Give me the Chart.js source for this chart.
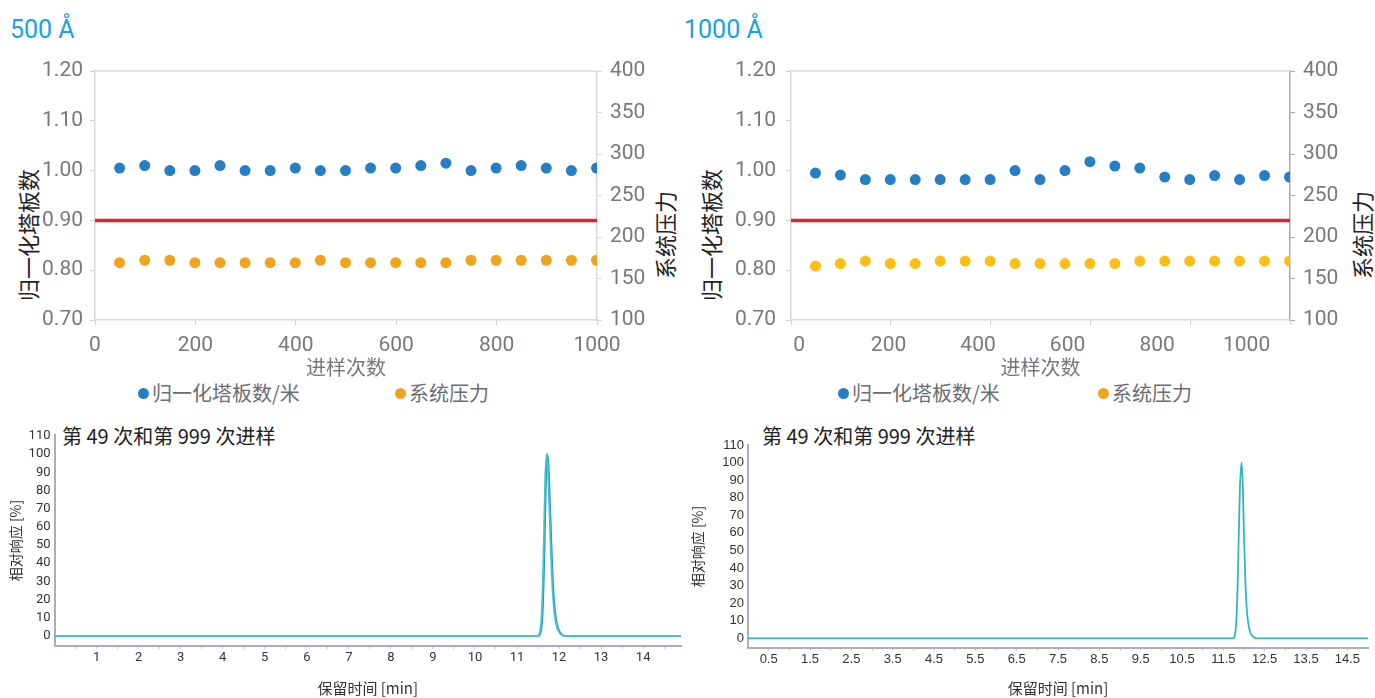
<!DOCTYPE html>
<html><head><meta charset="utf-8">
<script src="https://cdn.jsdelivr.net/npm/chart.js@4.4.1/dist/chart.umd.min.js"></script>
<style>
html,body{margin:0;padding:0;background:#fff;width:1375px;height:698px;overflow:hidden;position:relative;}
.box{position:absolute;}
.txt{position:absolute;white-space:nowrap;line-height:1;}
.head{font-family:Roboto;font-size:25px;color:#1ba1e2;transform:translateY(-50%);}
.rot{transform:translate(-50%,-50%) rotate(-90deg);font-family:'Noto Sans CJK SC';font-size:22px;color:#222;}
.leg{font-family:'Noto Sans CJK SC';font-size:20px;color:#6a6e72;display:flex;align-items:center;transform:translateY(-50%);}
.dot{width:11px;height:11px;border-radius:50%;display:inline-block;margin-right:3px;}
.ctitle{font-family:'Noto Sans CJK SC';font-size:20px;color:#222;transform:translateY(-50%);}
</style></head><body>

<div class="txt head" style="left:10px;top:29px">500 Å</div>
<div class="txt head" style="left:684px;top:29px">1000 Å</div>

<div class="txt rot" style="left:27px;top:235px">归一化塔板数</div>
<div class="txt rot" style="left:664px;top:235px">系统压力</div>
<div class="txt rot" style="left:710px;top:235px">归一化塔板数</div>
<div class="txt rot" style="left:1361px;top:235px">系统压力</div>

<div class="txt leg" style="left:138px;top:393px"><span class="dot" style="background:#267ec4"></span>归一化塔板数/米</div>
<div class="txt leg" style="left:395px;top:393px"><span class="dot" style="background:#f0a41e"></span>系统压力</div>
<div class="txt leg" style="left:838px;top:393px"><span class="dot" style="background:#267ec4"></span>归一化塔板数/米</div>
<div class="txt leg" style="left:1098px;top:393px"><span class="dot" style="background:#f0a41e"></span>系统压力</div>

<div class="txt ctitle" style="left:62px;top:436px">第 49 次和第 999 次进样</div>
<div class="txt ctitle" style="left:762px;top:436px">第 49 次和第 999 次进样</div>

<div class="box" style="left:0;top:40px;width:690px;height:345px"><canvas id="tl"></canvas></div>
<div class="box" style="left:690px;top:40px;width:685px;height:345px"><canvas id="tr"></canvas></div>
<div class="box" style="left:0;top:420px;width:700px;height:278px"><canvas id="bl"></canvas></div>
<div class="box" style="left:685px;top:420px;width:690px;height:278px"><canvas id="br"></canvas></div>

<script>
// ---------- data ----------
const injections = [49, 99, 149, 199, 249, 299, 349, 399, 449, 499, 549, 599, 649, 699, 749, 799, 849, 899, 949, 999];
const plates500 = [1.005, 1.01, 1.00, 1.00, 1.01, 1.00, 1.00, 1.005, 1.00, 1.00, 1.005, 1.005, 1.01, 1.015, 1.00, 1.005, 1.01, 1.005, 1.00, 1.005];
const pressure500 = [169, 172, 172, 169, 169, 169, 169, 169, 172, 169, 169, 169, 169, 169, 172, 172, 172, 172, 172, 172];
const plates1000 = [0.995, 0.991, 0.982, 0.982, 0.982, 0.982, 0.982, 0.982, 1.000, 0.982, 1.000, 1.018, 1.009, 1.005, 0.987, 0.982, 0.990, 0.982, 0.990, 0.987];
const pressure1000 = [165, 168, 171, 168, 168, 171, 171, 171, 168, 168, 168, 168, 168, 171, 171, 171, 171, 171, 171, 171];
const threshold = 0.90;
const leftTicks = [0.70, 0.80, 0.90, 1.00, 1.10, 1.20];
const rightTicks = [100, 150, 200, 250, 300, 350, 400];
const xTicksTop = [0, 200, 400, 600, 800, 1000];

const chromYTicks = [0, 10, 20, 30, 40, 50, 60, 70, 80, 90, 100, 110];
const chromXTicks500 = [1, 2, 3, 4, 5, 6, 7, 8, 9, 10, 11, 12, 13, 14];
const chromXTicks1000 = [0.5, 1.5, 2.5, 3.5, 4.5, 5.5, 6.5, 7.5, 8.5, 9.5, 10.5, 11.5, 12.5, 13.5, 14.5];

const run49Time500 = [0, 11.51, 11.56, 11.60, 11.63, 11.66, 11.69, 11.72, 11.75, 11.78, 11.81, 11.84, 11.88, 11.93, 11.99, 12.06, 12.14, 14.9];
const run49Resp500 = [0, 0, 2, 9, 26, 55, 86, 100, 94, 76, 56, 37, 20, 9, 3.5, 1, 0, 0];
const run999Time500 = [0, 11.49, 11.54, 11.58, 11.61, 11.64, 11.67, 11.70, 11.73, 11.76, 11.79, 11.82, 11.86, 11.91, 11.97, 12.04, 12.12, 14.9];
const run999Resp500 = [0, 0, 2, 9, 26, 55, 86, 100, 94, 76, 56, 37, 20, 9, 3.5, 1, 0, 0];
const runTime1000 = [0, 11.74, 11.78, 11.81, 11.84, 11.87, 11.90, 11.94, 11.97, 12.00, 12.03, 12.06, 12.10, 12.15, 12.22, 12.30, 15];
const runResp1000 = [0, 0, 2, 8, 25, 55, 85, 100, 88, 58, 35, 19, 9, 3.5, 1, 0, 0];

// ---------- helpers ----------
const pts = (xs, ys) => xs.map((x, i) => ({x, y: ys[i]}));
const GREY = '#75797d';
Chart.defaults.font.family = 'Roboto';
Chart.defaults.animation = false;

const frame = {
  id: 'frame',
  beforeDatasetsDraw(chart) {
    const a = chart.chartArea, c = chart.ctx;
    c.save();
    c.strokeStyle = '#dedede'; c.lineWidth = 1.5;
    c.beginPath(); c.moveTo(a.left, a.top); c.lineTo(a.right, a.top); c.stroke();
    c.restore();
  }
};

function topChart(id, plates, pressure, orange, twoAxes, pad, yW, y2W, leftPad, rightBorder) {
  const xTitle = {display: true, text: '进样次数', color: GREY, font: {family: 'Noto Sans CJK SC', size: 20}, padding: {top: 0, bottom: 6}};
  const xTickFont = {color: GREY, font: {size: 21}, padding: 8, maxRotation: 0, callback: v => String(v)};
  const scales = {
    y: {position: 'left', min: 0.7, max: 1.2,
        afterBuildTicks: s => { s.ticks = leftTicks.map(v => ({value: v})); },
        ticks: {color: GREY, font: {size: 21}, padding: leftPad, autoSkip: false, callback: v => v.toFixed(2)},
        grid: {drawOnChartArea: false, tickLength: 5, color: '#cfcfcf'},
        border: {color: '#d9d9d9', width: 1.5},
        afterFit: s => { s.width = yW; }},
    y2: {position: 'right', min: 100, max: 400,
        afterBuildTicks: s => { s.ticks = rightTicks.map(v => ({value: v})); },
        ticks: {color: GREY, font: {size: 21}, padding: 8, autoSkip: false},
        grid: {drawOnChartArea: false, tickLength: 5, color: rightBorder},
        border: {color: rightBorder, width: 1.5},
        afterFit: s => { s.width = y2W; }}
  };
  if (!twoAxes) {
    scales.x = {type: 'linear', position: 'bottom', min: 0, max: 1000,
      afterBuildTicks: s => { s.ticks = xTicksTop.map(v => ({value: v})); },
      ticks: xTickFont,
      grid: {drawOnChartArea: false, tickLength: 5, color: '#cfcfcf'},
      border: {color: '#d9d9d9', width: 1.5},
      title: xTitle,
      afterFit: s => { s.height = 65; }};
  } else {
    scales.x = {type: 'linear', position: 'bottom', weight: 0, min: 0, max: 1000,
      afterBuildTicks: s => { s.ticks = xTicksTop.map(v => ({value: v})); },
      ticks: {display: false},
      grid: {drawOnChartArea: false, tickLength: 5, color: '#cfcfcf'},
      border: {color: '#d9d9d9', width: 1.5},
      afterFit: s => { s.height = 5; }};
    scales.xl = {type: 'linear', position: 'bottom', weight: 1, min: -18, max: 1097,
      afterBuildTicks: s => { s.ticks = xTicksTop.map(v => ({value: v})); },
      ticks: Object.assign({}, xTickFont, {padding: 8}),
      grid: {display: false, drawTicks: false},
      border: {display: false},
      title: xTitle,
      afterFit: s => { s.height = 60; }};
  }
  return new Chart(document.getElementById(id), {
    type: 'scatter',
    data: {datasets: [
      {label: '归一化塔板数/米', data: pts(injections, plates), xAxisID: 'x', yAxisID: 'y',
       backgroundColor: '#267ec4', borderWidth: 0, pointRadius: 5.5, order: 1},
      {label: '系统压力', data: pts(injections, pressure), xAxisID: 'x', yAxisID: 'y2',
       backgroundColor: orange, borderWidth: 0, pointRadius: 5.5, order: 1},
      {label: 'limit', data: pts([0, 1000], [threshold, threshold]), xAxisID: 'x', yAxisID: 'y',
       showLine: true, borderColor: '#e3202b', borderWidth: 3.5, pointRadius: 0, order: 2}
    ]},
    options: {
      responsive: true, maintainAspectRatio: false,
      layout: {padding: pad},
      plugins: {legend: {display: false}, tooltip: {enabled: false}},
      scales
    },
    plugins: [frame]
  });
}

topChart('tl', plates500, pressure500, '#f0a41e', false, {left: 0, right: 0, top: 31, bottom: 0}, 95, 93, 7, '#d9d9d9');
topChart('tr', plates1000, pressure1000, '#fcbf15', true, {left: 0, right: 0, top: 31, bottom: 0}, 101, 85, 10, '#a9a9a9');

function chromChart(id, datasets, xmax, ymax, xLabels, family, pad, yWidth, xHeight, yTitlePad) {
  const AX = '#a8adc0';
  return new Chart(document.getElementById(id), {
    type: 'line',
    data: {datasets: datasets.map(d => ({
      label: d.label, data: pts(d.t, d.r), borderColor: d.color, borderWidth: 1.8,
      pointRadius: 0, cubicInterpolationMode: 'monotone', fill: false}))},
    options: {
      responsive: true, maintainAspectRatio: false,
      layout: {padding: pad},
      plugins: {legend: {display: false}, tooltip: {enabled: false}},
      scales: {
        x: {type: 'linear', min: 0, max: xmax,
          afterBuildTicks: s => {
            const t = [];
            for (let v = 0.5; v < xmax; v += 0.5) t.push({value: v});
            s.ticks = t;
          },
          ticks: {autoSkip: false, maxRotation: 0, color: '#333', font: {family, size: 13}, padding: 1,
                  callback: v => xLabels.includes(v) ? String(v) : ''},
          grid: {drawOnChartArea: false, tickLength: 3, color: '#c9ccd8'},
          border: {color: AX, width: 2},
          title: {display: true, text: '保留时间 [min]', color: '#333', font: {family: 'Noto Sans CJK SC', size: 15}, padding: {top: 0, bottom: 1}},
          afterFit: s => { s.height = xHeight; }},
        y: {min: -5.5, max: ymax,
          afterBuildTicks: s => { s.ticks = chromYTicks.map(v => ({value: v})); },
          ticks: {autoSkip: false, color: '#333', font: {family, size: 13}, padding: 4},
          grid: {drawOnChartArea: false, drawTicks: false},
          border: {color: AX, width: 2},
          title: {display: true, text: '相对响应 [%]', color: '#333', font: {family: 'Noto Sans CJK SC', size: 14}, padding: {top: yTitlePad, bottom: 0}},
          afterFit: s => { s.width = yWidth; }}
      }
    }
  });
}

chromChart('bl', [
  {label: '第 999 次', t: run999Time500, r: run999Resp500, color: '#45c3cb'},
  {label: '第 49 次', t: run49Time500, r: run49Resp500, color: '#2b8fc6'}
], 14.9, 110.5, chromXTicks500, 'Roboto', {left: 0, right: 19, top: 15, bottom: 0}, 54.5, 52, 7.6);

chromChart('br', [
  {label: '第 49 次和第 999 次', t: runTime1000, r: runResp1000, color: '#2fb7c1'}
], 15, 110, chromXTicks1000, "'Liberation Sans', Arial", {left: 0, right: 7, top: 25, bottom: 0}, 63, 50, 4.6);
</script>
</body></html>
